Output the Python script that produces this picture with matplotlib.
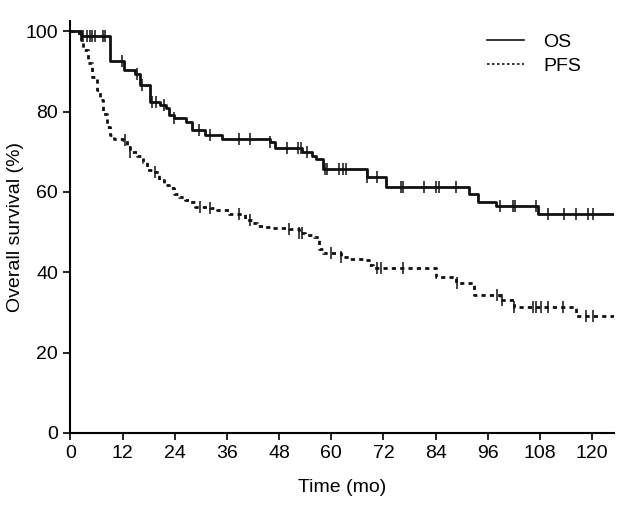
import numpy as np
import matplotlib
matplotlib.use('Agg')
import matplotlib.pyplot as plt

plt.rcParams['font.family'] = ['Liberation Sans', 'DejaVu Sans']

# OS: step times (months) and survival (%) after each step
os_t = [0, 2.5, 9.2, 12.3, 14.8, 16.1, 18.4, 20.7, 21.9, 22.6, 23.8, 26.5, 28.0,
        31.0, 34.9, 46.0, 47.0, 53.3, 55.5, 56.5, 58.0, 68.2, 72.5, 91.6, 93.7,
        97.9, 107.5, 125.0]
os_s = [100, 98.8, 92.6, 90.3, 89.5, 86.6, 82.4, 81.6, 80.8, 79.1, 78.3, 77.4, 75.4,
        74.1, 73.1, 72.5, 71.0, 70.0, 68.9, 68.3, 65.7, 63.8, 61.3, 59.6, 57.5,
        56.5, 54.4, 54.4]
os_cens = [3.0, 3.8, 4.6, 5.0, 5.6, 7.6, 8.0, 11.9, 15.3, 16.5, 18.8, 19.6, 21.5,
           23.8, 29.5, 32.2, 38.7, 41.2, 46.0, 49.9, 52.4, 53.0, 54.5, 58.6, 59.1,
           61.8, 62.6, 63.3, 68.3, 70.5, 76.0, 76.6, 81.4, 84.1, 84.7, 88.7, 98.7,
           101.7, 102.3, 107.0, 109.8, 113.6, 116.2, 119.0, 120.1]

# PFS
pfs_t = [0, 2.0, 2.5, 3.0, 4.0, 5.0, 6.1, 6.9, 7.6, 8.4, 9.2, 10.0, 12.2, 13.0,
         13.8, 15.3, 16.8, 17.5, 19.5, 20.3, 21.5, 22.6, 23.8, 24.9, 26.4, 27.2,
         28.7, 32.2, 33.7, 36.4, 40.2, 41.8, 42.9, 44.5, 46.0, 50.3, 52.5, 54.0,
         56.0, 57.1, 58.0, 62.2, 64.0, 67.5, 68.7, 69.5, 84.0, 88.7, 92.9, 98.7,
         102.1, 116.3, 125.0]
pfs_s = [100, 99.0, 97.8, 95.3, 92.0, 88.6, 85.3, 82.8, 79.5, 76.2, 74.1, 73.3, 72.9, 71.6,
         70.0, 69.0, 67.5, 65.4, 65.0, 62.9, 61.7, 61.0, 59.6, 58.8, 58.0, 57.5,
         56.3, 56.1, 55.5, 54.6, 53.0, 52.3, 51.5, 51.3, 50.9, 50.7, 49.7, 49.3,
         48.8, 45.9, 44.9, 43.9, 43.4, 43.0, 41.8, 41.1, 38.9, 37.4, 34.3, 33.1,
         31.3, 29.1, 29.1]
pfs_cens = [12.6, 13.8, 19.5, 29.9, 32.2, 38.7, 41.4, 50.3, 52.6, 53.3, 59.9, 62.2,
            70.6, 71.4, 76.4, 89.0, 98.2, 99.2, 102.1, 106.3, 107.1, 108.3, 109.8,
            113.2, 118.6, 120.1]


def level_at(t, s, x):
    idx = np.searchsorted(t, x, side='right') - 1
    return np.array(s)[idx]


fig = plt.figure(figsize=(6.29, 5.08), dpi=100)
ax = fig.add_axes([0.112, 0.148, 0.864, 0.81])

ax.plot(os_t, os_s, drawstyle='steps-post', color='#111111', lw=2, label='OS')
ax.plot(os_cens, level_at(os_t, os_s, os_cens), ls='none', marker='|',
        ms=8, mew=1.1, color='#111111')

ax.plot(pfs_t, pfs_s, drawstyle='steps-post', color='#111111', lw=2,
        ls=(0, (1.5, 1.5)), label='PFS')
ax.plot(pfs_cens, level_at(pfs_t, pfs_s, pfs_cens), ls='none', marker='|',
        ms=8, mew=1.1, color='#111111')

ax.set_xlim(0, 125)
ax.set_ylim(0, 102.5)
ax.set_xticks(np.arange(0, 121, 12))
ax.set_yticks(np.arange(0, 101, 20))
ax.spines['top'].set_visible(False)
ax.spines['right'].set_visible(False)
ax.spines['left'].set_linewidth(1.5)
ax.spines['bottom'].set_linewidth(1.5)
ax.tick_params(direction='out', length=5, width=1.2, labelsize=14, pad=4)
ax.set_xlabel('Time (mo)', fontsize=14, labelpad=12)
ax.set_ylabel('Overall survival (%)', fontsize=14, labelpad=1)

leg = ax.legend(loc='upper left', frameon=False, fontsize=14, handlelength=1.9,
                bbox_to_anchor=(0.752, 0.99), handletextpad=1.0, labelspacing=0.35,
                borderaxespad=0)
for h in leg.get_lines():
    h.set_linewidth(1.2)

fig.savefig('out.png', dpi=100)
